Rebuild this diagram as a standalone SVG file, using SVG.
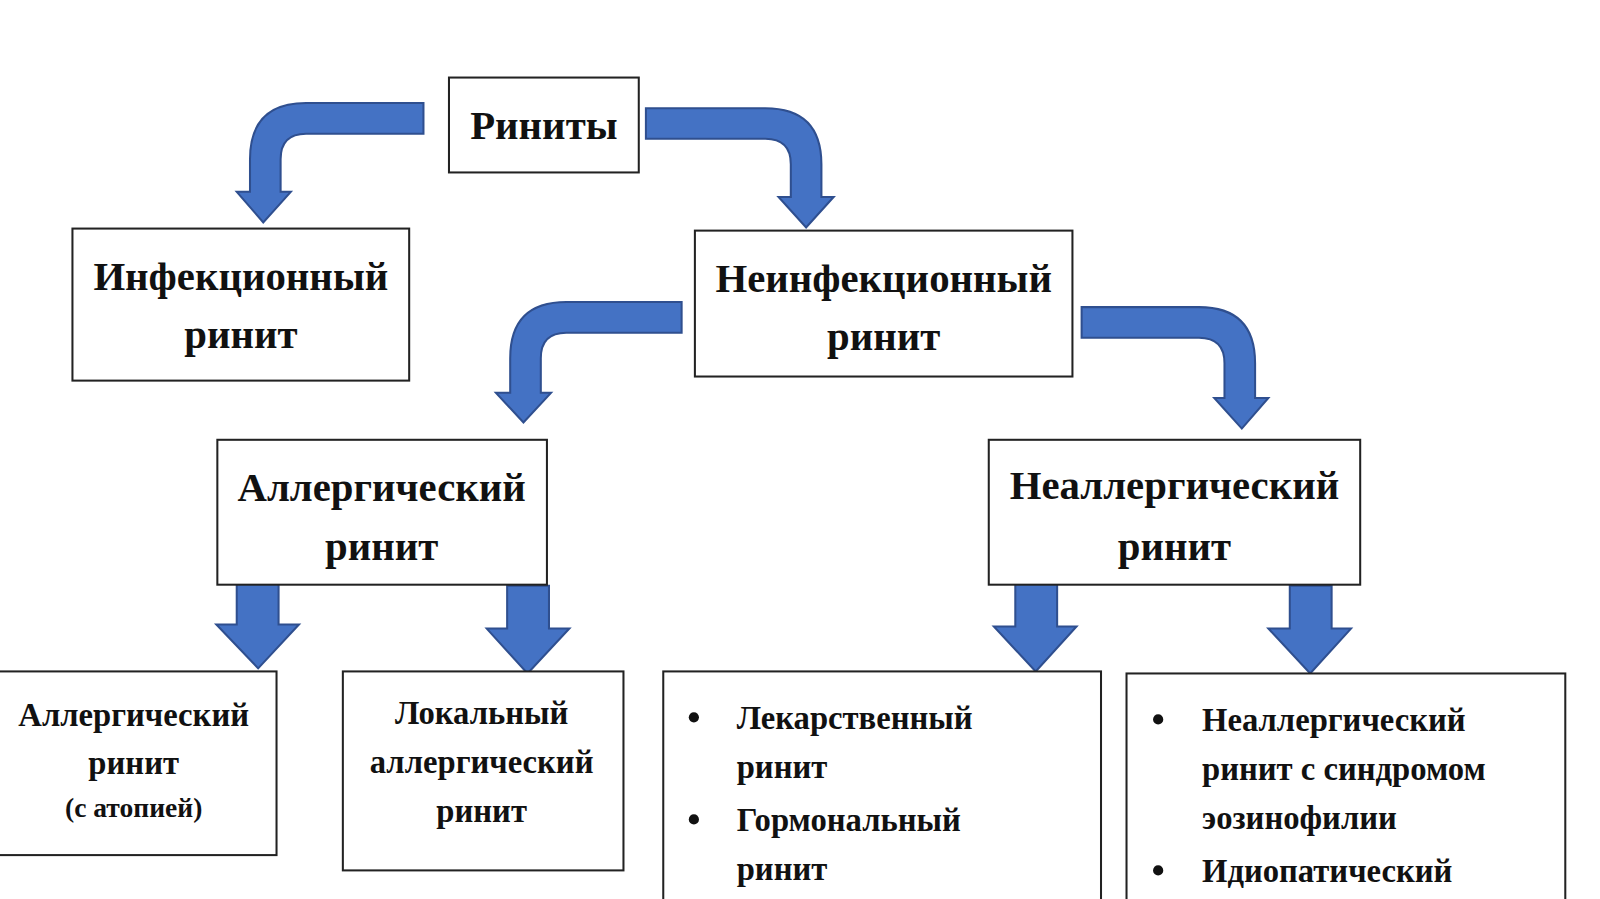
<svg xmlns="http://www.w3.org/2000/svg" width="1600" height="899" viewBox="0 0 1600 899">
<style>
.b{fill:#fff;stroke:#222;stroke-width:2}
.t{font-family:"Liberation Serif","DejaVu Serif",serif;font-weight:bold;fill:#111;text-anchor:middle}
.l{font-family:"Liberation Serif","DejaVu Serif",serif;font-weight:bold;fill:#111}
.a{fill:#4472c4;stroke:#2f4f8f;stroke-width:2}
</style>
<rect width="1600" height="899" fill="#fff"/>
<g transform="scale(1.0204)">
<g id="connectors">
<path class="a" d="M415,101 L300,101 Q245,101 245,156 L245,188 L232,188 L258,218 L285,188 L275,188 L275,156 Q275,131 300,131 L415,131 Z"/>
<path class="a" d="M633,106 L750,106 Q805,106 805,161 L805,193 L817,193 L790,223 L763,193 L775,193 L775,161 Q775,136 750,136 L633,136 Z"/>
<path class="a" d="M668,296 L555,296 Q500,296 500,351 L500,385 L486,385 L513,414 L540,385 L530,385 L530,351 Q530,326 555,326 L668,326 Z"/>
<path class="a" d="M1060,301 L1175,301 Q1230,301 1230,356 L1230,390 L1243,390 L1217,420 L1190,390 L1200,390 L1200,356 Q1200,331 1175,331 L1060,331 Z"/>
<path class="a" d="M232,570 L273,570 L273,612 L293,612 L253,655 L212,612 L232,612 Z"/>
<path class="a" d="M497,574 L538,574 L538,616 L558,616 L517,660 L477,616 L497,616 Z"/>
<path class="a" d="M995,572 L1036,572 L1036,614 L1055,614 L1015,658 L974,614 L995,614 Z"/>
<path class="a" d="M1264,574 L1305,574 L1305,616 L1324,616 L1284,660 L1243,616 L1264,616 Z"/>
</g>
<g id="root"><rect class="b" x="440" y="76" width="186" height="93"/><text class="t" x="533" y="136" font-size="40">Риниты</text></g>
<g id="infect"><rect class="b" x="71" y="224" width="330" height="149"/><text class="t" x="236" y="284" font-size="40">Инфекционный</text><text class="t" x="236" y="341" font-size="40">ринит</text></g>
<g id="noninfect"><rect class="b" x="681" y="226" width="370" height="143"/><text class="t" x="866" y="286" font-size="40">Неинфекционный</text><text class="t" x="866" y="343" font-size="40">ринит</text></g>
<g id="allergic"><rect class="b" x="213" y="431" width="323" height="142"/><text class="t" x="374" y="491" font-size="40">Аллергический</text><text class="t" x="374" y="549" font-size="40">ринит</text></g>
<g id="nonallergic"><rect class="b" x="969" y="431" width="364" height="142"/><text class="t" x="1151" y="489" font-size="40">Неаллергический</text><text class="t" x="1151" y="549" font-size="40">ринит</text></g>
<g id="atopic"><rect class="b" x="-2" y="658" width="273" height="180"/><text class="t" x="131" y="711" font-size="32">Аллергический</text><text class="t" x="131" y="759" font-size="32">ринит</text><text class="t" x="131" y="801" font-size="27">(с атопией)</text></g>
<g id="local"><rect class="b" x="336" y="658" width="275" height="195"/><text class="t" x="472" y="710" font-size="32">Локальный</text><text class="t" x="472" y="758" font-size="32">аллергический</text><text class="t" x="472" y="806" font-size="32">ринит</text></g>
<g id="drug"><rect class="b" x="650" y="658" width="429" height="250"/>
<circle cx="680" cy="703" r="5" fill="#111"/><text class="l" x="722" y="714" font-size="32">Лекарственный</text><text class="l" x="722" y="762" font-size="32">ринит</text>
<circle cx="680" cy="803" r="5" fill="#111"/><text class="l" x="722" y="814" font-size="32">Гормональный</text><text class="l" x="722" y="862" font-size="32">ринит</text></g>
<g id="eos"><rect class="b" x="1104" y="660" width="430" height="250"/>
<circle cx="1135" cy="705" r="5" fill="#111"/><text class="l" x="1178" y="716" font-size="32">Неаллергический</text><text class="l" x="1178" y="764" font-size="32">ринит с синдромом</text><text class="l" x="1178" y="812" font-size="32">эозинофилии</text>
<circle cx="1135" cy="853" r="5" fill="#111"/><text class="l" x="1178" y="864" font-size="32">Идиопатический</text></g>
</g>
</svg>
